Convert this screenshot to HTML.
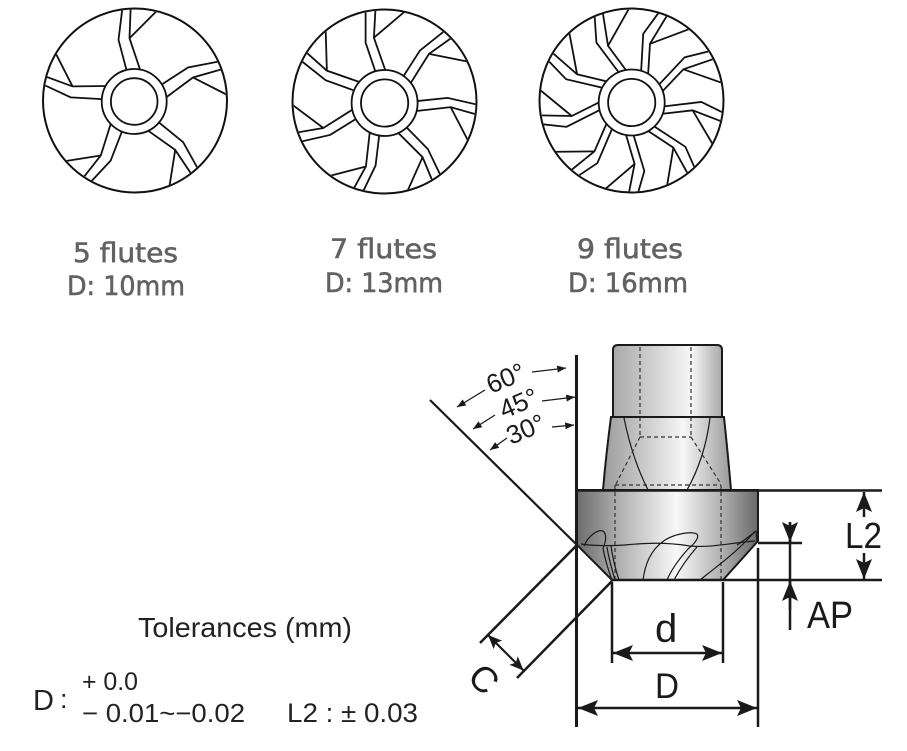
<!DOCTYPE html>
<html>
<head>
<meta charset="utf-8">
<style>
html,body{margin:0;padding:0;background:#fff;}
svg{display:block;}
</style>
</head>
<body>
<svg width="907" height="751" viewBox="0 0 907 751" xmlns="http://www.w3.org/2000/svg">
<defs>
  <clipPath id="c1"><circle cx="135" cy="100.5" r="91"/></clipPath>
  <clipPath id="c2"><circle cx="384.5" cy="101.5" r="91"/></clipPath>
  <clipPath id="c3"><circle cx="631.5" cy="100.5" r="91"/></clipPath>

  <g id="f5" fill="none" stroke="#111" stroke-width="1.8" stroke-linejoin="miter">
    <polyline points="-6.5,-27 -15.7,-61.7 -11,-100"/>
    <polyline points="7,-28.5 -4.7,-63.3 -3.3,-100"/>
    <polyline points="-4.7,-63.3 27,-95"/>
  </g>
  <g id="f7" fill="none" stroke="#111" stroke-width="1.8">
    <polyline points="-8,-28 -19,-60.3 -19,-100"/>
    <polyline points="2.2,-28.5 -10.7,-65.3 -8.8,-100"/>
    <polyline points="-10.7,-65.3 22,-93"/>
  </g>
  <g id="f9" fill="none" stroke="#111" stroke-width="1.8">
    <polyline points="-11,-27.5 -35.3,-60 -38,-100"/>
    <polyline points="-2.5,-28 -23.7,-56.7 -30.5,-100"/>
    <polyline points="-23.7,-56.7 -1,-97"/>
  </g>

  <linearGradient id="gShank" x1="613" y1="0" x2="722" y2="0" gradientUnits="userSpaceOnUse">
    <stop offset="0" stop-color="#a9a9a9"/>
    <stop offset="0.72" stop-color="#f7f7f7"/>
    <stop offset="1" stop-color="#a8a8a8"/>
  </linearGradient>
  <linearGradient id="gTaper" x1="604" y1="0" x2="732" y2="0" gradientUnits="userSpaceOnUse">
    <stop offset="0" stop-color="#9c9c9c"/>
    <stop offset="0.62" stop-color="#f6f6f6"/>
    <stop offset="1" stop-color="#989898"/>
  </linearGradient>
  <linearGradient id="gHead" x1="577" y1="0" x2="758" y2="0" gradientUnits="userSpaceOnUse">
    <stop offset="0" stop-color="#6c6c6c"/>
    <stop offset="0.25" stop-color="#b4b4b4"/>
    <stop offset="0.55" stop-color="#f8f8f8"/>
    <stop offset="0.8" stop-color="#b0b0b0"/>
    <stop offset="1" stop-color="#686868"/>
  </linearGradient>

  <marker id="A" viewBox="0 0 20 16" refX="20" refY="8" markerWidth="20" markerHeight="16" markerUnits="userSpaceOnUse" orient="auto-start-reverse">
    <path d="M0,0 L20,8 L0,16 L4,8 Z" fill="#1a1a1a"/>
  </marker>
  <marker id="B" viewBox="0 0 14 12" refX="14" refY="6" markerWidth="14" markerHeight="12" markerUnits="userSpaceOnUse" orient="auto-start-reverse">
    <path d="M0,0 L14,6 L0,12 L3,6 Z" fill="#1a1a1a"/>
  </marker>
  <marker id="s" viewBox="0 0 10 8" refX="10" refY="4" markerWidth="9" markerHeight="7" markerUnits="userSpaceOnUse" orient="auto">
    <path d="M0,0 L10,4 L0,8 Z" fill="#1a1a1a"/>
  </marker>
</defs>

<!-- ===== 5 flutes ===== -->
<g clip-path="url(#c1)">
  <g transform="translate(134.2,101.5)">
    <use href="#f5"/>
    <use href="#f5" transform="rotate(72)"/>
    <use href="#f5" transform="rotate(144)"/>
    <use href="#f5" transform="rotate(216)"/>
    <use href="#f5" transform="rotate(288)"/>
  </g>
</g>
<circle cx="135" cy="100.5" r="92" fill="none" stroke="#111" stroke-width="2"/>
<circle cx="134.2" cy="101.5" r="32.5" fill="#fff" stroke="#111" stroke-width="1.8"/>
<circle cx="134.2" cy="101.5" r="23.3" fill="#fff" stroke="#111" stroke-width="1.8"/>

<!-- ===== 7 flutes ===== -->
<g clip-path="url(#c2)">
  <g transform="translate(384.6,103)">
    <use href="#f7"/>
    <use href="#f7" transform="rotate(51.43)"/>
    <use href="#f7" transform="rotate(102.86)"/>
    <use href="#f7" transform="rotate(154.29)"/>
    <use href="#f7" transform="rotate(205.71)"/>
    <use href="#f7" transform="rotate(257.14)"/>
    <use href="#f7" transform="rotate(308.57)"/>
  </g>
</g>
<circle cx="384.5" cy="101.5" r="92" fill="none" stroke="#111" stroke-width="2"/>
<circle cx="384.6" cy="103" r="33" fill="#fff" stroke="#111" stroke-width="1.8"/>
<circle cx="384.6" cy="103" r="23.6" fill="#fff" stroke="#111" stroke-width="1.8"/>

<!-- ===== 9 flutes ===== -->
<g clip-path="url(#c3)">
  <g transform="translate(631.7,102.5)">
    <use href="#f9"/>
    <use href="#f9" transform="rotate(40)"/>
    <use href="#f9" transform="rotate(80)"/>
    <use href="#f9" transform="rotate(120)"/>
    <use href="#f9" transform="rotate(160)"/>
    <use href="#f9" transform="rotate(200)"/>
    <use href="#f9" transform="rotate(240)"/>
    <use href="#f9" transform="rotate(280)"/>
    <use href="#f9" transform="rotate(320)"/>
  </g>
</g>
<circle cx="631.5" cy="100.5" r="92" fill="none" stroke="#111" stroke-width="2"/>
<circle cx="631.7" cy="102.5" r="33" fill="#fff" stroke="#111" stroke-width="1.8"/>
<circle cx="631.7" cy="102.5" r="23.6" fill="#fff" stroke="#111" stroke-width="1.8"/>

<!-- labels -->
<g font-family="'DejaVu Sans','Liberation Sans',sans-serif" font-size="27" fill="#626262" stroke="#626262" stroke-width="0.6">
  <text x="73" y="262" textLength="105" lengthAdjust="spacingAndGlyphs">5 flutes</text>
  <text x="67" y="295" textLength="118" lengthAdjust="spacingAndGlyphs">D: 10mm</text>
  <text x="330" y="258" textLength="107" lengthAdjust="spacingAndGlyphs">7 flutes</text>
  <text x="325" y="292" textLength="118" lengthAdjust="spacingAndGlyphs">D: 13mm</text>
  <text x="577" y="258" textLength="106" lengthAdjust="spacingAndGlyphs">9 flutes</text>
  <text x="568" y="292" textLength="120" lengthAdjust="spacingAndGlyphs">D: 16mm</text>
</g>

<!-- tolerances -->
<g font-family="'Liberation Sans',sans-serif" fill="#222">
  <text x="138" y="637" font-size="28" textLength="214" lengthAdjust="spacingAndGlyphs">Tolerances (mm)</text>
  <text x="33" y="710" font-size="29">D</text>
  <text x="60" y="708" font-size="27">:</text>
  <text x="82" y="690" font-size="25" textLength="56" lengthAdjust="spacingAndGlyphs">+ 0.0</text>
  <text x="82" y="722" font-size="26" textLength="163" lengthAdjust="spacingAndGlyphs">− 0.01~−0.02</text>
  <text x="287" y="722" font-size="27" textLength="131" lengthAdjust="spacingAndGlyphs">L2 : ± 0.03</text>
</g>

<!-- ===== tool drawing ===== -->
<!-- shank -->
<path d="M613,417 L613,350 Q613,345 618,345 L717,345 Q722,345 722,350 L722,417 Z" fill="url(#gShank)" stroke="#1a1a1a" stroke-width="2"/>
<!-- taper -->
<path d="M611,417 L724,417 Q728,455 731,490 L603,490 Q606,455 611,417 Z" fill="url(#gTaper)" stroke="#1a1a1a" stroke-width="2"/>
<path d="M624,418 Q632,458 648,490" fill="none" stroke="#1a1a1a" stroke-width="1.2"/>
<path d="M710,418 Q705,458 687,490" fill="none" stroke="#1a1a1a" stroke-width="1.2"/>
<!-- head -->
<path d="M577,490 L758,490 L758,541 L723,580 L612,580 L577,545 Z" fill="url(#gHead)" stroke="#1a1a1a" stroke-width="2"/>

<!-- dashed hidden lines -->
<g fill="none" stroke="#333" stroke-width="1.2" stroke-dasharray="4,3">
  <line x1="640" y1="347" x2="640" y2="437"/>
  <line x1="691" y1="347" x2="691" y2="437"/>
  <line x1="640" y1="437" x2="691" y2="437"/>
  <line x1="640" y1="437" x2="616" y2="484"/>
  <line x1="691" y1="437" x2="721" y2="484"/>
  <line x1="615" y1="485" x2="721" y2="485"/>
  <line x1="615" y1="485" x2="615" y2="579"/>
  <line x1="721" y1="485" x2="721" y2="579"/>
</g>

<!-- flute curves on chamfer -->
<g fill="none" stroke="#1a1a1a" stroke-width="1.2">
  <path d="M581,544 C595,546 610,546 625,545 C645,543 665,542 690,546 C710,548 730,543 755,541"/>
  <path d="M584,546 C588,536 598,529 603,531 C607,534 606,542 603,548 C605,560 609,572 612,580"/>
  <path d="M607,547 C609,560 612,570 615,580"/>
  <path d="M611,546 C613,560 616,571 619,580"/>
  <path d="M643,580 C645,565 650,550 665,540 C675,534 690,531 697,534 C700,538 693,545 688,549 C680,558 672,568 667,580"/>
  <path d="M697,547 C689,556 681,567 674,580"/>
  <path d="M700,580 C715,568 735,553 747,540 C752,535 754,532 756,531 L757,542"/>
  <path d="M737,545 C745,540 752,534 756,531"/>
</g>

<!-- construction / dimension lines -->
<g stroke="#1a1a1a" fill="none" stroke-linecap="butt">
  <line x1="576.5" y1="355" x2="576.5" y2="727" stroke-width="3"/>
  <line x1="577" y1="490.5" x2="882" y2="490.5" stroke-width="2.5"/>
  <line x1="612" y1="580" x2="882" y2="580" stroke-width="2.5"/>
  <line x1="758" y1="543" x2="802" y2="543" stroke-width="2.5"/>
  <line x1="758" y1="548" x2="758" y2="727" stroke-width="2.5"/>
  <line x1="612" y1="582" x2="612" y2="663" stroke-width="2.5"/>
  <line x1="723" y1="582" x2="723" y2="663" stroke-width="2.5"/>
  <line x1="430" y1="400" x2="577" y2="545" stroke-width="2.2"/>
  <line x1="577" y1="545" x2="480" y2="643" stroke-width="2.5"/>
  <line x1="612" y1="581" x2="517" y2="678" stroke-width="2.5"/>

  <!-- D -->
  <line x1="578" y1="708" x2="757" y2="708" stroke-width="2.5" marker-start="url(#A)" marker-end="url(#A)"/>
  <!-- d -->
  <line x1="613" y1="653" x2="722" y2="653" stroke-width="2.5" marker-start="url(#A)" marker-end="url(#A)"/>
  <!-- L2 -->
  <line x1="864" y1="517" x2="864" y2="492" stroke-width="2.5" marker-end="url(#A)"/>
  <line x1="864" y1="553" x2="864" y2="579" stroke-width="2.5" marker-end="url(#A)"/>
  <!-- AP -->
  <line x1="790" y1="523" x2="790" y2="630" stroke-width="2.5"/>
  <line x1="790" y1="522" x2="790" y2="542" stroke-width="2.5" marker-end="url(#A)"/>
  <line x1="790" y1="610" x2="790" y2="581" stroke-width="2.5" marker-end="url(#A)"/>
  <!-- C -->
  <line x1="488" y1="635" x2="523.5" y2="670.5" stroke-width="2.2" marker-start="url(#B)" marker-end="url(#B)"/>

  <!-- angle arrows -->
  <line x1="485" y1="390" x2="457" y2="407" stroke-width="1.3" marker-end="url(#s)"/>
  <line x1="532" y1="372" x2="566" y2="368" stroke-width="1.3" marker-end="url(#s)"/>
  <line x1="495" y1="415" x2="473" y2="429" stroke-width="1.3" marker-end="url(#s)"/>
  <line x1="542" y1="401" x2="575" y2="397" stroke-width="1.3" marker-end="url(#s)"/>
  <line x1="507" y1="438" x2="490" y2="450" stroke-width="1.3" marker-end="url(#s)"/>
  <line x1="552" y1="427" x2="574" y2="425" stroke-width="1.3" marker-end="url(#s)"/>
</g>

<!-- angle labels -->
<g font-family="'Liberation Sans',sans-serif" font-size="26" fill="#1a1a1a">
  <text transform="translate(491,394) rotate(-23)">60°</text>
  <text transform="translate(504,419) rotate(-23)">45°</text>
  <text transform="translate(511,445) rotate(-23)">30°</text>
</g>

<!-- dimension labels -->
<g font-family="'Liberation Sans',sans-serif" fill="#1a1a1a">
  <text x="845" y="548" font-size="36" textLength="37" lengthAdjust="spacingAndGlyphs">L2</text>
  <text x="807" y="628" font-size="38" textLength="46" lengthAdjust="spacingAndGlyphs">AP</text>
  <text x="655" y="642" font-size="40">d</text>
  <text x="655" y="698" font-size="35" textLength="24" lengthAdjust="spacingAndGlyphs">D</text>
  <text x="0" y="0" font-size="36" text-anchor="middle" dominant-baseline="central" transform="translate(484,679) rotate(45)">C</text>
</g>
</svg>
</body>
</html>
